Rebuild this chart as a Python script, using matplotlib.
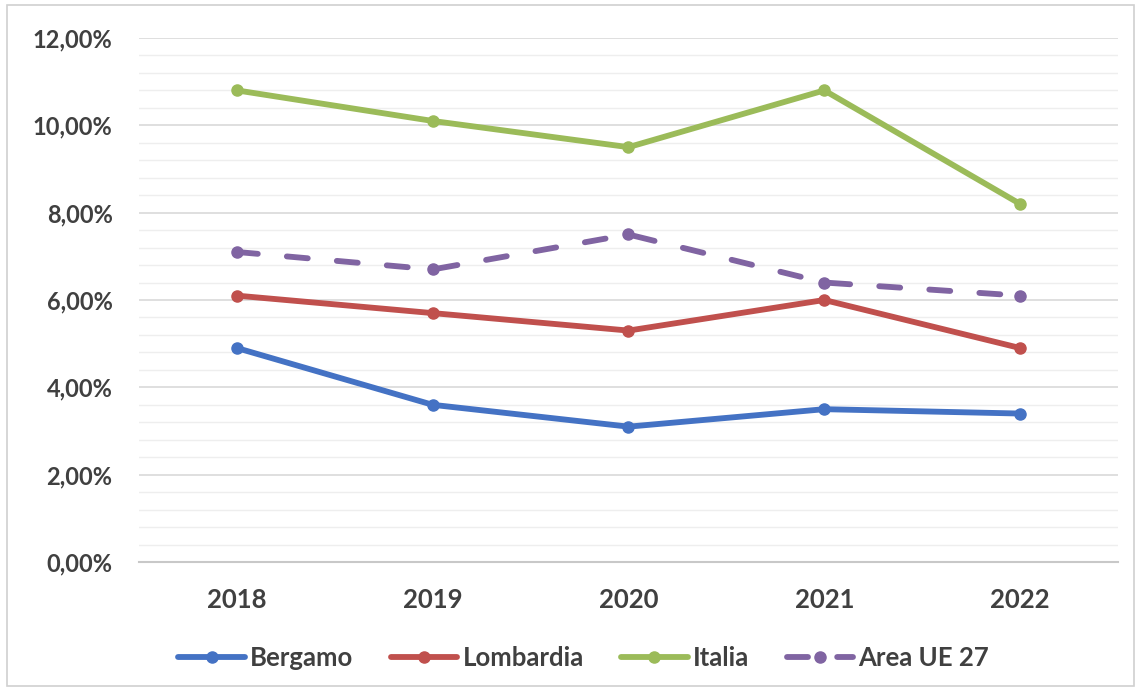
import matplotlib.pyplot as plt
from matplotlib.patches import Rectangle
from matplotlib.ticker import FuncFormatter, MultipleLocator

years = ["2018", "2019", "2020", "2021", "2022"]
bergamo = [4.9, 3.6, 3.1, 3.5, 3.4]
lombardia = [6.1, 5.7, 5.3, 6.0, 4.9]
italia = [10.8, 10.1, 9.5, 10.8, 8.2]
area_ue = [7.1, 6.7, 7.5, 6.4, 6.1]

plt.rcParams["font.family"] = ["Lato", "DejaVu Sans"]
text_color = "#404040"

fig = plt.figure(figsize=(11.4, 6.88), dpi=100)
ax = fig.add_axes([0.1219, 0.1831, 0.8588, 0.7617])

x = range(len(years))
style = dict(linewidth=4.2, marker="o", markersize=8, solid_capstyle="round")
ax.plot(x, bergamo, color="#4472C4", label="Bergamo", **style)
ax.plot(x, lombardia, color="#C0504D", label="Lombardia", **style)
ax.plot(x, italia, color="#9BBB59", label="Italia", **style)
ax.plot(x, area_ue, color="#8064A2", label="Area UE 27", dashes=(3.6, 5.0),
        dash_capstyle="round", **style)

ax.set_xlim(-0.5, len(years) - 0.5)
ax.set_ylim(0, 12)
ax.set_xticks(list(x))
ax.set_xticklabels(years)
ax.yaxis.set_major_locator(MultipleLocator(2))
ax.yaxis.set_minor_locator(MultipleLocator(0.4))
ax.yaxis.set_major_formatter(FuncFormatter(lambda v, _: f"{v:.2f}%".replace(".", ",")))

ax.grid(axis="y", which="major", color="#d9d9d9", linewidth=1.2)
ax.grid(axis="y", which="minor", color="#eeeeee", linewidth=1.0)
ax.set_axisbelow(True)
for side in ["top", "right", "left"]:
    ax.spines[side].set_visible(False)
ax.spines["bottom"].set_color("#c8c8c8")
ax.spines["bottom"].set_linewidth(1.5)

ax.tick_params(axis="both", which="both", length=0, colors=text_color)
ax.tick_params(axis="y", pad=19, labelsize=17)
ax.tick_params(axis="x", pad=19, labelsize=18.5)
for lbl in ax.get_xticklabels() + ax.get_yticklabels():
    lbl.set_fontweight("bold")

leg = ax.legend(loc="center", bbox_to_anchor=(0.512, 0.044), bbox_transform=fig.transFigure,
                ncol=4, frameon=False, handlelength=2.6, handletextpad=0.2,
                columnspacing=1.45, prop=dict(size=18.5, weight="bold"))
for t in leg.get_texts():
    t.set_color(text_color)

# light frame around the chart area
fig.patches.append(Rectangle((0.006, 0.003), 0.989, 0.99, transform=fig.transFigure,
                             fill=False, edgecolor="#d0d0d0", linewidth=1.2))

fig.savefig("out.png", dpi=100, facecolor="white")
